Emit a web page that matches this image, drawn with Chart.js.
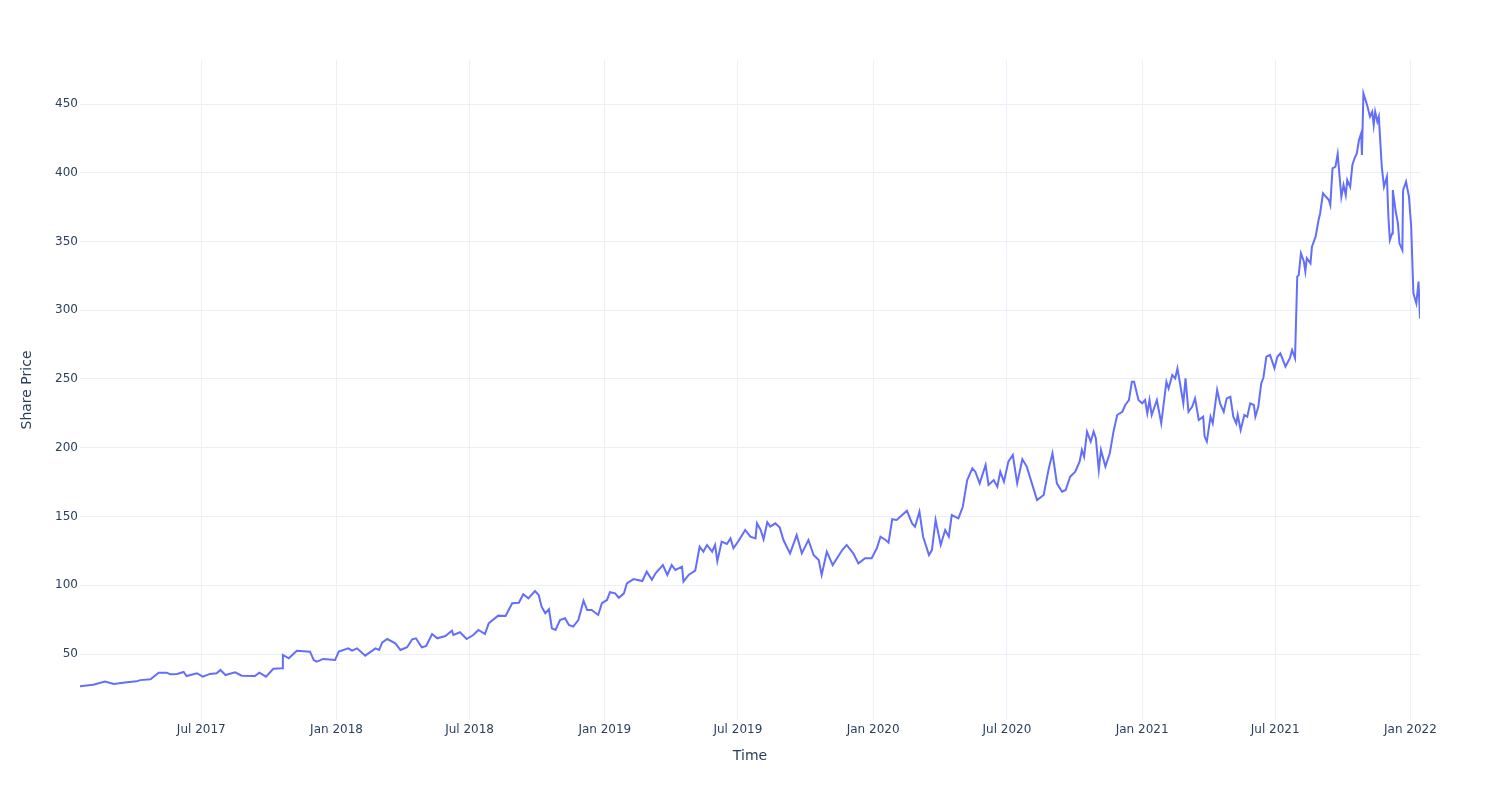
<!DOCTYPE html>
<html>
<head>
<meta charset="utf-8">
<script src="https://cdn.jsdelivr.net/npm/chart.js@4.4.1/dist/chart.umd.min.js"></script>
<style>
  html, body { margin: 0; padding: 0; background: #ffffff; }
</style>
</head>
<body>
<canvas id="chart" width="1500" height="800"></canvas>
<script>
// share price (roughly every few days)
const dates = [
  '2017-01-17', '2017-02-04', '2017-02-20', '2017-03-04', '2017-03-22', '2017-04-04', '2017-04-09', '2017-04-23',
  '2017-05-04', '2017-05-15', '2017-05-20', '2017-05-29', '2017-06-07', '2017-06-11', '2017-06-25', '2017-07-03',
  '2017-07-13', '2017-07-22', '2017-07-27', '2017-08-03', '2017-08-16', '2017-08-25', '2017-09-12', '2017-09-18',
  '2017-09-27', '2017-10-07', '2017-10-19', '2017-10-20', '2017-10-28', '2017-11-08', '2017-11-26', '2017-12-01',
  '2017-12-05', '2017-12-14', '2017-12-30', '2018-01-04', '2018-01-17', '2018-01-22', '2018-01-29', '2018-02-09',
  '2018-02-23', '2018-02-28', '2018-03-04', '2018-03-11', '2018-03-22', '2018-03-29', '2018-04-07', '2018-04-14',
  '2018-04-19', '2018-04-27', '2018-05-03', '2018-05-11', '2018-05-18', '2018-05-29', '2018-06-07', '2018-06-09',
  '2018-06-18', '2018-06-27', '2018-07-06', '2018-07-13', '2018-07-22', '2018-07-27', '2018-08-09', '2018-08-19',
  '2018-08-28', '2018-09-06', '2018-09-12', '2018-09-19', '2018-09-28', '2018-10-03', '2018-10-07', '2018-10-12',
  '2018-10-17', '2018-10-21', '2018-10-26', '2018-11-01', '2018-11-08', '2018-11-13', '2018-11-19', '2018-11-26',
  '2018-12-03', '2018-12-08', '2018-12-14', '2018-12-23', '2018-12-28', '2019-01-04', '2019-01-08', '2019-01-15',
  '2019-01-20', '2019-01-27', '2019-01-31', '2019-02-09', '2019-02-21', '2019-02-27', '2019-03-06', '2019-03-11',
  '2019-03-21', '2019-03-27', '2019-04-02', '2019-04-07', '2019-04-16', '2019-04-18', '2019-04-25', '2019-05-04',
  '2019-05-10', '2019-05-15', '2019-05-20', '2019-05-27', '2019-05-31', '2019-06-03', '2019-06-09', '2019-06-16',
  '2019-06-21', '2019-06-25', '2019-07-02', '2019-07-11', '2019-07-18', '2019-07-25', '2019-07-27', '2019-08-01',
  '2019-08-05', '2019-08-10', '2019-08-14', '2019-08-21', '2019-08-27', '2019-09-01', '2019-09-10', '2019-09-19',
  '2019-09-26', '2019-10-05', '2019-10-12', '2019-10-19', '2019-10-23', '2019-10-30', '2019-11-07', '2019-11-20',
  '2019-11-26', '2019-12-05', '2019-12-12', '2019-12-21', '2019-12-30', '2020-01-06', '2020-01-11', '2020-01-18',
  '2020-01-22', '2020-01-27', '2020-02-02', '2020-02-16', '2020-02-23', '2020-02-27', '2020-03-04', '2020-03-09',
  '2020-03-17', '2020-03-21', '2020-03-26', '2020-04-02', '2020-04-08', '2020-04-13', '2020-04-17', '2020-04-26',
  '2020-05-02', '2020-05-08', '2020-05-15', '2020-05-19', '2020-05-25', '2020-06-02', '2020-06-06', '2020-06-13',
  '2020-06-18', '2020-06-22', '2020-06-27', '2020-07-03', '2020-07-09', '2020-07-15', '2020-07-22', '2020-07-28',
  '2020-08-04', '2020-08-11', '2020-08-20', '2020-08-27', '2020-09-01', '2020-09-07', '2020-09-14', '2020-09-19',
  '2020-09-25', '2020-10-02', '2020-10-08', '2020-10-11', '2020-10-14', '2020-10-18', '2020-10-23', '2020-10-27',
  '2020-10-30', '2020-11-03', '2020-11-06', '2020-11-12', '2020-11-18', '2020-11-23', '2020-11-28', '2020-12-05',
  '2020-12-09', '2020-12-14', '2020-12-18', '2020-12-21', '2020-12-27', '2021-01-01', '2021-01-05', '2021-01-08',
  '2021-01-11', '2021-01-14', '2021-01-21', '2021-01-27', '2021-02-03', '2021-02-06', '2021-02-11', '2021-02-15',
  '2021-02-18', '2021-02-23', '2021-02-26', '2021-03-01', '2021-03-05', '2021-03-10', '2021-03-14', '2021-03-19',
  '2021-03-25', '2021-03-27', '2021-03-30', '2021-04-04', '2021-04-07', '2021-04-13', '2021-04-17', '2021-04-22',
  '2021-04-26', '2021-05-01', '2021-05-05', '2021-05-09', '2021-05-11', '2021-05-15', '2021-05-20', '2021-05-24',
  '2021-05-28', '2021-06-02', '2021-06-04', '2021-06-08', '2021-06-12', '2021-06-15', '2021-06-19', '2021-06-24',
  '2021-06-30', '2021-07-04', '2021-07-08', '2021-07-15', '2021-07-21', '2021-07-24', '2021-07-28', '2021-07-31',
  '2021-08-02', '2021-08-05', '2021-08-09', '2021-08-11', '2021-08-13', '2021-08-18', '2021-08-20', '2021-08-25',
  '2021-08-29', '2021-08-31', '2021-09-04', '2021-09-12', '2021-09-14', '2021-09-17', '2021-09-21', '2021-09-24',
  '2021-09-29', '2021-10-02', '2021-10-05', '2021-10-07', '2021-10-11', '2021-10-14', '2021-10-17', '2021-10-20',
  '2021-10-23', '2021-10-26', '2021-10-27', '2021-10-29', '2021-11-03', '2021-11-07', '2021-11-10', '2021-11-12',
  '2021-11-14', '2021-11-17', '2021-11-19', '2021-11-23', '2021-11-26', '2021-11-30', '2021-12-02', '2021-12-04',
  '2021-12-07', '2021-12-08', '2021-12-12', '2021-12-15', '2021-12-17', '2021-12-21', '2021-12-22', '2021-12-26',
  '2021-12-30', '2022-01-02', '2022-01-05', '2022-01-09', '2022-01-12', '2022-01-14'
]

const prices = [
  26.5, 27.7, 29.9, 28.2, 29.4, 30.1, 31.0, 31.6,
  36.4, 36.4, 35.2, 35.5, 36.9, 34.0, 36.0, 33.5,
  35.5, 36.0, 38.4, 34.7, 36.7, 34.2, 34.0, 36.4,
  33.5, 39.3, 39.6, 49.3, 46.9, 52.4, 51.7, 45.6,
  44.4, 46.4, 45.6, 51.7, 54.1, 52.4, 54.1, 48.8,
  54.1, 52.9, 58.2, 60.9, 57.8, 52.9, 54.9, 60.7,
  61.4, 54.9, 55.8, 64.5, 61.4, 63.1, 66.9, 63.8,
  65.8, 60.9, 63.8, 67.5, 64.5, 72.3, 77.9, 77.6,
  86.9, 87.3, 93.4, 90.5, 95.8, 92.9, 84.4, 79.6,
  82.5, 68.7, 67.5, 74.7, 76.0, 71.1, 69.9, 74.7,
  88.8, 82.0, 82.0, 78.4, 86.9, 89.3, 94.9, 94.1,
  90.9, 94.1, 101.4, 104.5, 103.1, 109.9, 104.0, 108.7,
  114.7, 107.5, 114.7, 111.1, 113.5, 102.6, 107.5, 110.6,
  128.0, 124.4, 129.3, 124.4, 129.3, 117.6, 131.7, 130.0,
  134.1, 126.9, 132.4, 140.2, 135.3, 134.1, 145.0, 140.2,
  133.4, 145.8, 142.6, 145.0, 141.9, 132.9, 123.2, 136.5,
  123.2, 132.9, 122.0, 118.4, 107.5, 124.4, 114.7, 125.6,
  129.3, 123.2, 115.9, 119.6, 119.6, 126.9, 135.3, 132.9,
  131.0, 148.0, 147.5, 154.2, 145.0, 142.6, 153.5, 135.3,
  122.0, 125.6, 147.5, 129.3, 140.2, 135.3, 151.1, 148.7,
  157.1, 176.5, 185.0, 182.6, 174.1, 187.5, 172.9, 176.5,
  171.7, 182.6, 175.3, 189.9, 194.7, 174.1, 191.6, 186.3,
  174.1, 162.0, 165.6, 185.0, 196.0, 174.1, 168.0, 169.3,
  178.9, 182.6, 190.0, 198.4, 193.5, 211.7, 204.5, 211.7,
  206.9, 183.8, 198.4, 186.3, 196.0, 211.7, 223.8, 226.2,
  231.1, 234.7, 248.0, 248.0, 234.7, 232.3, 234.7, 225.0,
  234.7, 223.8, 234.7, 217.8, 248.0, 243.1, 252.9, 250.5,
  257.7, 242.0, 232.3, 250.5, 226.2, 229.8, 235.9, 220.2,
  222.6, 208.1, 204.5, 222.6, 217.8, 242.0, 232.3, 226.2,
  235.9, 237.1, 222.6, 217.8, 223.8, 212.9, 223.8, 222.6,
  232.3, 231.1, 222.6, 229.8, 246.8, 251.1, 266.2, 267.5,
  257.8, 266.2, 268.6, 259.1, 265.2, 271.1, 265.2, 324.4,
  325.6, 341.4, 335.5, 328.2, 337.9, 334.1, 346.2, 353.5,
  365.6, 370.0, 385.0, 380.2, 376.5, 403.2, 404.4, 413.6,
  382.5, 391.1, 383.8, 394.7, 389.8, 405.6, 410.5, 414.1,
  423.8, 428.7, 412.9, 457.8, 449.3, 440.8, 444.4, 434.7,
  444.4, 437.1, 440.8, 404.4, 389.8, 397.1, 368.0, 351.1,
  355.9, 387.4, 371.6, 363.2, 348.7, 343.8, 387.4, 393.5,
  382.5, 360.8, 312.3, 305.0, 320.8, 294.0
]

const xTickDates = ['2017-07-01', '2018-01-01', '2018-07-01', '2019-01-01', '2019-07-01',
  '2020-01-01', '2020-07-01', '2021-01-01', '2021-07-01', '2022-01-01']
const xTickLabels = ['Jul 2017', 'Jan 2018', 'Jul 2018', 'Jan 2019', 'Jul 2019',
  'Jan 2020', 'Jul 2020', 'Jan 2021', 'Jul 2021', 'Jan 2022']
const yTicks = [50, 100, 150, 200, 250, 300, 350, 400, 450]
const yMin = 2
const yMax = 482

const fontFamily = 'DejaVu Sans'
const textColor = '#2a3f5f'
const gridColor = '#ebf0f8'

function toTime(s) {
    return Date.parse(s + 'T00:00:00Z')
}

let points = dates.map((d, i) => ({ x: toTime(d), y: prices[i] }))

let ctx = document.getElementById('chart')

let chart = new Chart(ctx, {
    type: 'line',
    data: {
        datasets: [{
            data: points,
            borderColor: '#636efa',
            borderWidth: 2,
            pointRadius: 0,
            tension: 0,
            fill: false
        }]
    },
    options: {
        responsive: false,
        animation: false,
        layout: { padding: { top: 60, right: 80, bottom: 0, left: 0 } },
        plugins: {
            legend: { display: false },
            tooltip: { enabled: false }
        },
        scales: {
            x: {
                type: 'linear',
                min: toTime(dates[0]),
                max: toTime(dates[dates.length - 1]),
                afterBuildTicks: function (scale) {
                    scale.ticks = xTickDates.map(d => ({ value: toTime(d) }))
                },
                afterFit: function (scale) { scale.height = 80 },
                grid: { color: gridColor, lineWidth: 1, drawTicks: false },
                border: { display: false },
                ticks: {
                    autoSkip: false,
                    maxRotation: 0,
                    padding: 3,
                    color: textColor,
                    font: { family: fontFamily, size: 12 },
                    // re-label with month names
                    callback: function (value, index) { return xTickLabels[index] }
                },
                title: {
                    display: true,
                    text: 'Time',
                    color: textColor,
                    font: { family: fontFamily, size: 14 },
                    padding: { top: 0, bottom: 35.6 }
                }
            },
            y: {
                min: yMin,
                max: yMax,
                afterBuildTicks: function (scale) {
                    scale.ticks = yTicks.map(v => ({ value: v }))
                },
                afterFit: function (scale) { scale.width = 80 },
                grid: { color: gridColor, lineWidth: 1, drawTicks: false },
                border: { display: false },
                ticks: {
                    padding: 2,
                    color: textColor,
                    font: { family: fontFamily, size: 12 }
                },
                title: {
                    display: true,
                    text: 'Share Price',
                    color: textColor,
                    font: { family: fontFamily, size: 14 },
                    padding: { top: 18.6, bottom: 0 }
                }
            }
        }
    }
})
</script>
</body>
</html>
